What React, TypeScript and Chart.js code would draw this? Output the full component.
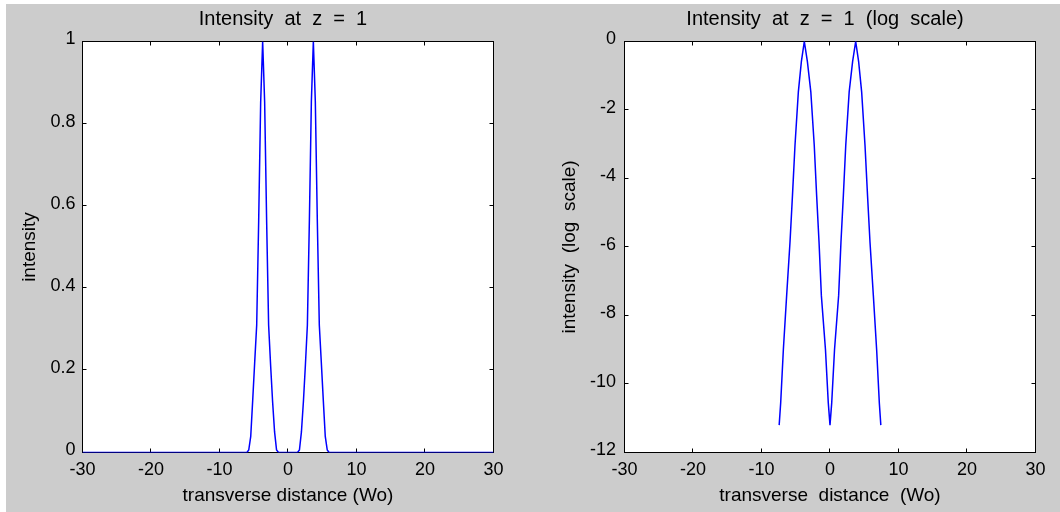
import React, { useEffect, useRef } from "react";
import { Chart, registerables } from "chart.js";

Chart.register(...registerables);

// ---- text ----
const linTitle = "Intensity  at  z  =  1";
const logTitle = "Intensity  at  z  =  1  (log  scale)";
const linXLabel = "transverse distance (Wo)";
const logXLabel = "transverse  distance  (Wo)";
const linYLabel = "intensity";
const logYLabel = "intensity  (log  scale)";

// ---- tick values ----
const xTicks = [-30, -20, -10, 0, 10, 20, 30];
const linYTicks = [0, 0.2, 0.4, 0.6, 0.8, 1];
const logYTicks = [-12, -10, -8, -6, -4, -2, 0];

// ---- left panel: intensity ----
const linX = [
  -30, -6.0, -5.73, -5.44, -5.15, -4.86, -4.57, -4.28, -3.99, -3.7, -3.41, -3.12, -2.83, -2.54, -2.25, -1.96, -1.67, -1.38,
  1.38, 1.67, 1.96, 2.25, 2.54, 2.83, 3.12, 3.41, 3.7, 3.99, 4.28, 4.57, 4.86, 5.15, 5.44, 5.73, 6.0, 30,
];
const linY = [
  0, 0, 0.006, 0.039, 0.128, 0.22, 0.31, 0.564, 0.853, 1.0, 0.853, 0.564, 0.31, 0.213, 0.124, 0.05, 0.006, 0,
  0, 0.006, 0.05, 0.124, 0.213, 0.31, 0.564, 0.853, 1.0, 0.853, 0.564, 0.31, 0.22, 0.128, 0.039, 0.006, 0, 0,
];

// ---- right panel: log10 intensity ----
const logX = [
  -7.42, -7.2, -6.81, -6.33, -5.84, -5.48, -5.11, -4.62, -4.18, -3.75, -3.3, -2.8, -2.3, -1.95, -1.6, -1.26, -0.66, -0.25, 0,
  0.25, 0.66, 1.26, 1.6, 1.95, 2.3, 2.8, 3.3, 3.75, 4.18, 4.62, 5.11, 5.48, 5.84, 6.33, 6.81, 7.2, 7.42,
];
const logY = [
  -11.2, -10.55, -9.0, -7.42, -5.86, -4.5, -3.03, -1.47, -0.59, 0, -0.59, -1.47, -3.03, -4.5, -5.86, -7.42, -9.0, -10.55, -11.2,
  -10.55, -9.0, -7.42, -5.86, -4.5, -3.03, -1.47, -0.59, 0, -0.59, -1.47, -3.03, -4.5, -5.86, -7.42, -9.0, -10.55, -11.2,
];

const FONT = '"Liberation Sans", Arial, sans-serif';
const GRAY = "#cccccc";

const panelPlugin = {
  id: "panel",
  beforeDraw(chart: any, _a: any, opts: any) {
    const { ctx, width, height, chartArea: a } = chart;
    ctx.save();
    ctx.fillStyle = "#ffffff";
    ctx.fillRect(0, 0, width, height);
    ctx.fillStyle = GRAY;
    ctx.fillRect(opts.grayLeft, 4, width - opts.grayLeft, height - 4);
    ctx.fillStyle = "#ffffff";
    ctx.fillRect(a.left, a.top, a.right - a.left, a.bottom - a.top);
    ctx.restore();
  },
  beforeDatasetsDraw(chart: any) {
    const { ctx, chartArea: a, scales } = chart;
    ctx.save();
    ctx.strokeStyle = "#000000";
    ctx.lineWidth = 1;
    ctx.strokeRect(a.left, a.top, a.right - a.left, a.bottom - a.top);
    const tl = 4;
    ctx.beginPath();
    for (const t of scales.x.ticks) {
      const px = Math.round(scales.x.getPixelForValue(t.value)) - 0.5;
      ctx.moveTo(px, a.bottom);
      ctx.lineTo(px, a.bottom - tl);
      ctx.moveTo(px, a.top);
      ctx.lineTo(px, a.top + tl);
    }
    for (const t of scales.y.ticks) {
      const py = Math.round(scales.y.getPixelForValue(t.value)) - 0.5;
      ctx.moveTo(a.left, py);
      ctx.lineTo(a.left + tl, py);
      ctx.moveTo(a.right, py);
      ctx.lineTo(a.right - tl, py);
    }
    ctx.stroke();
    ctx.restore();
  },
  afterDraw(chart: any, _a: any, opts: any) {
    const { ctx, chartArea: a } = chart;
    ctx.save();
    ctx.fillStyle = "#000000";
    ctx.font = `20px ${FONT}`;
    ctx.textAlign = "center";
    ctx.textBaseline = "middle";
    ctx.fillText(opts.title, (a.left + a.right) / 2 - 5, 19);
    ctx.restore();
  },
};

function fmt(v: number) {
  return String(Math.round(v * 10) / 10);
}

function makeChart(
  canvas: HTMLCanvasElement,
  xs: number[],
  ys: number[],
  yTicks: number[],
  cfg: {
    title: string;
    xLabel: string;
    yLabel: string;
    grayLeft: number;
    yWidth: number;
    padRight: number;
    yTitlePad: number;
    yTickPad: number;
  }
) {
  const data = xs.map((x, i) => ({ x, y: ys[i] }));
  const yMin = yTicks[0];
  const yMax = yTicks[yTicks.length - 1];
  return new Chart(canvas, {
    type: "line",
    data: {
      datasets: [
        {
          data,
          borderColor: "#0000ff",
          borderWidth: 1.5,
          pointRadius: 0,
          tension: 0,
          fill: false,
        },
      ],
    },
    options: {
      responsive: false,
      animation: false,
      events: [],
      layout: { padding: { left: 0, top: 41.5, right: cfg.padRight, bottom: 0 } },
      scales: {
        x: {
          type: "linear",
          min: -30,
          max: 30,
          afterBuildTicks: (s: any) => {
            s.ticks = xTicks.map((v) => ({ value: v }));
          },
          afterFit: (s: any) => {
            s.height = 59.5;
          },
          grid: { display: false, drawTicks: false },
          border: { display: false },
          ticks: {
            padding: 7,
            autoSkip: false,
            maxRotation: 0,
            color: "#000000",
            font: { family: FONT, size: 18 },
            callback: (v: any) => fmt(Number(v)),
          },
          title: {
            display: true,
            text: cfg.xLabel,
            color: "#000000",
            font: { family: FONT, size: 19 },
            padding: { top: 0, bottom: 5 },
          },
        },
        y: {
          type: "linear",
          min: yMin,
          max: yMax,
          afterBuildTicks: (s: any) => {
            s.ticks = yTicks.map((v) => ({ value: v }));
          },
          afterFit: (s: any) => {
            s.width = cfg.yWidth;
          },
          grid: { display: false, drawTicks: false },
          border: { display: false },
          ticks: {
            padding: cfg.yTickPad,
            labelOffset: -2,
            autoSkip: false,
            color: "#000000",
            font: { family: FONT, size: 18 },
            callback: (v: any) => fmt(Number(v)),
          },
          title: {
            display: true,
            text: cfg.yLabel,
            color: "#000000",
            font: { family: FONT, size: 19 },
            padding: { top: cfg.yTitlePad, bottom: 0 },
          },
        },
      },
      plugins: {
        legend: { display: false },
        tooltip: { enabled: false },
        title: { display: false },
        panel: { title: cfg.title, grayLeft: cfg.grayLeft },
      } as any,
    },
    plugins: [panelPlugin],
  } as any);
}

export default function App() {
  const leftRef = useRef<HTMLCanvasElement>(null);
  const rightRef = useRef<HTMLCanvasElement>(null);

  useEffect(() => {
    const c1 = makeChart(leftRef.current!, linX, linY, linYTicks, {
      title: linTitle,
      xLabel: linXLabel,
      yLabel: linYLabel,
      grayLeft: 6,
      yWidth: 82.5,
      padRight: 36.5,
      yTitlePad: 18.6,
      yTickPad: 7,
    });
    const c2 = makeChart(rightRef.current!, logX, logY, logYTicks, {
      title: logTitle,
      xLabel: logXLabel,
      yLabel: logYLabel,
      grayLeft: 0,
      yWidth: 94.5,
      padRight: 24.5,
      yTitlePad: 28.6,
      yTickPad: 8.5,
    });
    return () => {
      c1.destroy();
      c2.destroy();
    };
  }, []);

  return (
    <div style={{ position: "absolute", left: 0, top: 0, width: 1060, height: 512, background: "#ffffff" }}>
      <canvas ref={leftRef} width={530} height={512} style={{ position: "absolute", left: 0, top: 0 }} />
      <canvas ref={rightRef} width={530} height={512} style={{ position: "absolute", left: 530, top: 0 }} />
    </div>
  );
}
